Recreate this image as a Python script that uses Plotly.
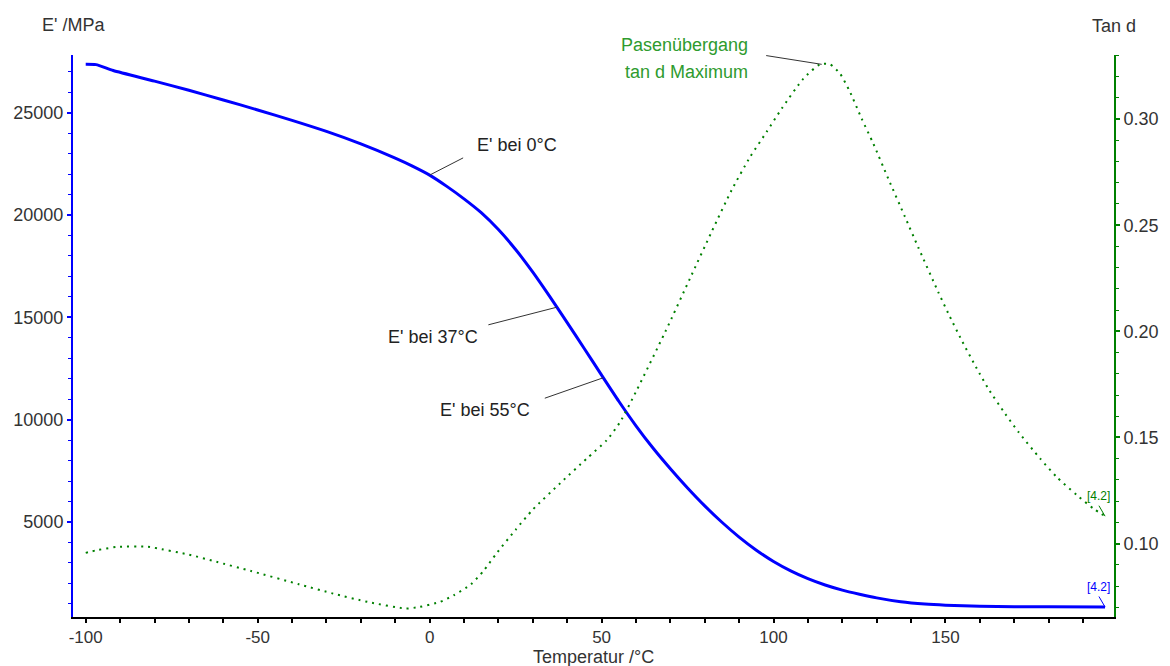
import numpy as np
import plotly.graph_objects as go

# ---------------- data ----------------
temp_E = [-100, -97, -92, -80, -70, -60, -50, -40, -30, -20, -10, -5, 0, 5, 10, 15, 20, 25,
          30, 35, 37, 40, 45, 50, 55, 60, 65, 70, 75, 80, 85, 90, 95, 100, 105, 110, 115,
          120, 125, 130, 137, 144, 150, 160, 170, 180, 196.4]
E_mod = [27370, 27350, 27060, 26544, 26094, 25624, 25134, 24624, 24084, 23474, 22780, 22390,
         21950, 21400, 20790, 20115, 19290, 18315, 17205, 15995, 15495, 14745, 13465, 12175,
         10900, 9700, 8600, 7600, 6660, 5785, 4985, 4260, 3620, 3070, 2610, 2230, 1920,
         1670, 1470, 1290, 1100, 990, 935, 885, 862, 852, 844]

temp_tan = [-100, -97, -91, -82, -80, -70, -62, -52, -38, -28, -18, -7, -3, 3, 7, 12, 15.6,
            19.5, 25, 30, 38, 45.7, 51.5, 55.4, 60.2, 68.5, 75.7, 82, 87.8, 93.2, 98, 102.4,
            108.7, 113.5, 116.4, 119.3, 122.2, 125.6, 129, 133.4, 138.2, 142.1, 147.9, 150.8,
            154.7, 159.1, 162.4, 167.3, 171.2, 177.5, 182.3, 188.2, 193, 196.4]
tan_d = [0.0956, 0.0968, 0.0984, 0.0985, 0.0980, 0.0948, 0.0914, 0.0871, 0.0808, 0.0764,
         0.0725, 0.0694, 0.0701, 0.0725, 0.0756, 0.0808, 0.0870, 0.0955, 0.1065, 0.1160,
         0.1285, 0.1401, 0.1487, 0.1573, 0.1722, 0.1997, 0.2249, 0.2469, 0.2665, 0.2822,
         0.2940, 0.3050, 0.3191, 0.3258, 0.3258, 0.3215, 0.3129, 0.3003, 0.2885, 0.2718,
         0.2540, 0.2395, 0.2185, 0.2085, 0.1958, 0.1825, 0.1731, 0.1613, 0.1526, 0.1401,
         0.1314, 0.1228, 0.1165, 0.1129]

callout_labels = ["E' bei 0°C", "E' bei 37°C", "E' bei 55°C"]
callout_temps = [0, 37, 50.5]
peak_labels = ["Pasenübergang", "tan d Maximum"]
peak_temp = 114.0
end_label = "[4.2]"

x_ticks = [-100, -50, 0, 50, 100, 150]
x_title = "Temperatur /°C"
y_title = "E' /MPa"
y2_title = "Tan d"

# ---------------- style ----------------
FONT = "Liberation Sans, Arial, sans-serif"
BLUE = "#0000ff"
GREEN = "#008000"
TXT = "#333333"
GREEN_TXT = "#2e9b2e"

fig = go.Figure()
fig.add_trace(go.Scatter(x=temp_E, y=E_mod, mode="lines",
                         line=dict(color=BLUE, width=3, shape="spline", smoothing=0.6),
                         yaxis="y", showlegend=False, hoverinfo="skip"))
fig.add_trace(go.Scatter(x=temp_tan, y=tan_d, mode="lines",
                         line=dict(color=GREEN, width=2, dash="2px,5px", shape="spline", smoothing=0.6),
                         yaxis="y2", showlegend=False, hoverinfo="skip"))

ann = []
# callouts on E'
offsets = [  # (ax, ay, xanchor, xshift, yshift)
    (35, -18, "left", 45, 30),
    (-70, 18, "right", -77, -30),
    (-60, 21, "right", -71, -32),
]
for lab, t, (ax, ay, xa, xs, ys) in zip(callout_labels, callout_temps, offsets):
    yv = float(np.interp(t, temp_E, E_mod))
    ann.append(dict(x=t, y=yv, xref="x", yref="y", text="", showarrow=True,
                    arrowhead=0, arrowwidth=1, arrowcolor="#333333", ax=ax, ay=ay,
                    standoff=0, startstandoff=0))
    ann.append(dict(x=t, y=yv, xref="x", yref="y", text=lab, showarrow=False,
                    xanchor=xa, yanchor="middle", xshift=xs, yshift=ys,
                    font=dict(family=FONT, size=18, color="#222222")))

# tan d peak callout
tpk = float(np.interp(peak_temp, temp_tan, tan_d))
ann.append(dict(x=peak_temp, y=tpk, xref="x", yref="y2", text="", showarrow=True,
                arrowhead=0, arrowwidth=1, arrowcolor="#333333", ax=-57, ay=-9,
                standoff=0, startstandoff=0))
for lab, ys in zip(peak_labels, [19, -8]):
    ann.append(dict(x=peak_temp, y=tpk, xref="x", yref="y2", text=lab, showarrow=False,
                    xanchor="right", yanchor="middle", xshift=-72, yshift=ys,
                    font=dict(family=FONT, size=18, color=GREEN_TXT)))

# end labels [4.2]
for xs_, ys_, yref, col in [(temp_tan, tan_d, "y2", GREEN), (temp_E, E_mod, "y", BLUE)]:
    ann.append(dict(x=xs_[-1], y=ys_[-1], xref="x", yref=yref, text="", showarrow=True,
                    arrowhead=0, arrowwidth=1, arrowcolor=col, ax=-7, ay=-12,
                    standoff=0, startstandoff=0))
    ann.append(dict(x=xs_[-1], y=ys_[-1], xref="x", yref=yref, text=end_label, showarrow=False,
                    xanchor="center", yanchor="middle", xshift=-7, yshift=20,
                    font=dict(family=FONT, size=12, color=col)))

# axis titles
ann.append(dict(x=0, y=1, xref="paper", yref="paper", text=y_title, showarrow=False,
                xanchor="center", yanchor="middle", yshift=30,
                font=dict(family=FONT, size=18, color=TXT)))
ann.append(dict(x=1, y=1, xref="paper", yref="paper", text=y2_title, showarrow=False,
                xanchor="center", yanchor="middle", yshift=29,
                font=dict(family=FONT, size=18, color=TXT)))
ann.append(dict(x=0.5, y=0, xref="paper", yref="paper", text=x_title, showarrow=False,
                xanchor="center", yanchor="middle", yshift=-40,
                font=dict(family=FONT, size=18, color=TXT)))

fig.update_layout(
    width=1170, height=666,
    margin=dict(l=73, r=56, t=55, b=49),
    paper_bgcolor="white", plot_bgcolor="white",
    font=dict(family=FONT, size=18, color=TXT),
    annotations=ann,
    xaxis=dict(range=[-103.7, 199], showgrid=False, zeroline=False,
               showline=True, linecolor="black", linewidth=2,
               ticks="outside", ticklen=4, tickwidth=2, tickcolor="black",
               tickmode="array", tickvals=x_ticks, ticktext=[str(v) for v in x_ticks],
               minor=dict(dtick=10, tick0=0, ticks="outside", ticklen=4, tickwidth=2,
                          tickcolor="black", showgrid=False),
               tickfont=dict(family=FONT, size=17, color=TXT)),
    yaxis=dict(range=[355, 27820], showgrid=False, zeroline=False,
               showline=True, linecolor=BLUE, linewidth=2,
               ticks="outside", ticklen=4, tickwidth=2, tickcolor=BLUE,
               tick0=0, dtick=5000, tickformat="d",
               minor=dict(dtick=1000, tick0=0, ticks="outside", ticklen=3, tickwidth=1,
                          tickcolor=BLUE, showgrid=False),
               tickfont=dict(family=FONT, size=18, color=TXT)),
    yaxis2=dict(range=[0.0654, 0.3302], overlaying="y", side="right", showgrid=False,
                zeroline=False, showline=True, linecolor=GREEN, linewidth=2,
                ticks="outside", ticklen=4, tickwidth=2, tickcolor=GREEN,
                tick0=0, dtick=0.05, tickformat=".2f",
                minor=dict(dtick=0.01, tick0=0, ticks="outside", ticklen=3, tickwidth=1,
                           tickcolor=GREEN, showgrid=False),
                tickfont=dict(family=FONT, size=18, color=TXT)),
)

fig.write_html("out.html", include_plotlyjs=True, config={"displayModeBar": False},
               post_script="document.body.style.margin='0';document.body.style.padding='0';document.body.style.overflow='hidden';")
